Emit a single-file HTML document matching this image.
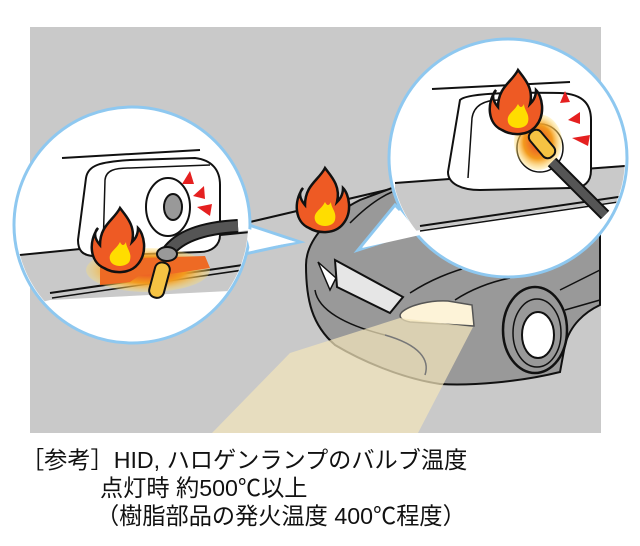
<!DOCTYPE html>
<html><head><meta charset="utf-8"><style>
body{margin:0;background:#fff;width:640px;height:546px;overflow:hidden;position:relative;font-family:"Liberation Sans","Noto Sans CJK JP",sans-serif}
.t{position:absolute;font-size:23.2px;color:#111;white-space:nowrap;line-height:1}
</style></head><body>
<svg width="640" height="546" viewBox="0 0 640 546" style="position:absolute;left:0;top:0">
<defs>
<radialGradient id="g" cx="50%" cy="50%" r="50%"><stop offset="0" stop-color="#e8402a"/><stop offset="0.6" stop-color="#f39a1d"/><stop offset="1" stop-color="#ffe070" stop-opacity="0.3"/></radialGradient>
<g id="fl"><path d="M0,-42 C-6,-30 -20,-25 -20,-5 C-26,-12 -26,-18 -22,-22 C-32,-8 -30,12 -16,18 C-6,24 10,24 18,14 C28,2 24,-16 18,-22 C18,-14 14,-10 12,-8 C16,-24 6,-34 0,-42 Z" fill="#ee5a24" stroke="#111" stroke-width="2.5"/><path d="M0,-8 C-4,0 -12,2 -10,10 C-8,18 8,18 10,10 C12,2 6,-2 6,-8 C4,-4 2,-4 0,-8Z" fill="#ffdd00"/></g>
</defs>
<rect x="30" y="27" width="571" height="406" fill="#c9c9c9"/>
<line x1="250" y1="222" x2="600" y2="140" stroke="#111" stroke-width="2"/>
<!-- car body -->
<path d="M306,265 C306,240 330,215 360,200 L400,185 L600,172 L600,305 C585,312 570,325 565,345 L560,372 C520,382 470,386 440,384 C400,378 360,360 335,345 C312,325 306,300 306,265 Z" fill="#999" stroke="#111" stroke-width="2"/>
<path d="M350,223 C365,208 378,198 392,192" fill="none" stroke="#111" stroke-width="1.5"/>
<path d="M318,262 L336,278 L330,290 Z" fill="#fff" stroke="#111" stroke-width="1.5"/>
<path d="M335,260 L403,297 L390,313 L337,287 Z" fill="#e6e6e6" stroke="#111" stroke-width="2"/>
<path d="M315,290 C318,310 345,325 385,335" fill="none" stroke="#111" stroke-width="1.5"/>
<path d="M410,293 C430,280 450,272 475,265" fill="none" stroke="#111" stroke-width="1.5"/>
<path d="M455,300 C470,290 490,282 510,278" fill="none" stroke="#111" stroke-width="1.5"/>
<path d="M560,290 L600,270 M565,310 L600,300" stroke="#111" stroke-width="1.5"/>
<!-- wheel -->
<ellipse cx="535" cy="330" rx="32" ry="43" fill="#999" stroke="#111" stroke-width="2.5"/>
<ellipse cx="537" cy="333" rx="24" ry="34" fill="#999" stroke="#111" stroke-width="1.5"/>
<ellipse cx="538" cy="335" rx="16" ry="23" fill="#fff" stroke="#111" stroke-width="2"/>
<!-- headlight and beam -->
<path d="M402,312 C410,305 430,300 448,301 L472,305 L474,326 L410,322 C400,320 398,316 402,312Z" fill="#fdf3d8" stroke="#555" stroke-width="1.5"/>
<polygon points="400,318 473,327 418,433 212,433 290,353" fill="#f3e4bb" opacity="0.72"/>
<path d="M385,335 C420,345 430,360 425,375" fill="none" stroke="#777" stroke-width="1.5"/>
<!-- pointers -->
<polygon points="395,205 420,230 358,250" fill="#fff" stroke="#8ec8f0" stroke-width="3"/>
<polygon points="240,222 300,242 240,255" fill="#fff" stroke="#8ec8f0" stroke-width="3"/>
<!-- left circle -->
<circle cx="132" cy="225" r="118" fill="#fff" stroke="#8ec8f0" stroke-width="3"/>
<polygon points="296,242 250,250 245,228" fill="#fff"/>
<!-- right circle -->
<circle cx="508" cy="158" r="119" fill="#fff" stroke="#8ec8f0" stroke-width="3"/>
<polygon points="400,210 362,248 420,235" fill="#fff"/>
<use href="#fl" x="325" y="210"/>
<!-- left circle content -->
<clipPath id="cl"><circle cx="132" cy="225" r="116"/></clipPath>
<g clip-path="url(#cl)">
<path d="M10,256 L250,230 L250,290 L50,300 L10,310Z" fill="#c9c9c9"/>
<line x1="10" y1="256" x2="250" y2="232" stroke="#111" stroke-width="2"/>
<line x1="50" y1="293" x2="250" y2="264" stroke="#111" stroke-width="2"/>
<line x1="52" y1="298" x2="250" y2="269" stroke="#111" stroke-width="1.5"/>
<line x1="62" y1="158" x2="200" y2="150" stroke="#111" stroke-width="2"/>
<path d="M86,178 C88,165 100,162 130,160 L195,158 C212,160 220,170 220,185 L220,235 C220,245 212,252 200,252 L95,256 C82,256 78,250 78,240 Z" fill="#fff" stroke="#111" stroke-width="2"/>
<path d="M103,250 L105,180 C106,170 115,168 130,168 L210,165" fill="none" stroke="#111" stroke-width="1.5"/>
<ellipse cx="168" cy="207" rx="22" ry="29" fill="#fff" stroke="#111" stroke-width="2"/>
<ellipse cx="173" cy="207" rx="9" ry="13" fill="#999" stroke="#111" stroke-width="2"/>
<ellipse cx="148" cy="270" rx="62" ry="22" fill="url(#g)"/>
<path d="M100,262 L140,258 L205,256 L210,268 L170,274 L140,275 L130,282 L100,285Z" fill="#ee6a24"/>
<path d="M168,252 C178,238 200,228 238,226" fill="none" stroke="#111" stroke-width="14"/>
<path d="M168,252 C178,238 200,228 238,226" fill="none" stroke="#555" stroke-width="10"/>
<rect x="152" y="262" width="15" height="36" rx="7" fill="#f6c343" stroke="#111" stroke-width="2" transform="rotate(15 159 280)"/>
<ellipse cx="167" cy="254" rx="10" ry="7" fill="#999" stroke="#111" stroke-width="2"/>
<use href="#fl" x="120" y="250"/>
<polygon points="182,184 190,171 194,184" fill="#e52020"/><polygon points="193,196 204,186 205,199" fill="#e52020"/><polygon points="197,207 212,204 210,216" fill="#e52020"/>
</g>
<!-- right circle content -->
<clipPath id="cr"><circle cx="508" cy="158" r="117"/></clipPath>
<g clip-path="url(#cr)">
<path d="M395,183 L625,165 L625,200 L420,230 L395,235Z" fill="#c9c9c9"/>
<line x1="395" y1="183" x2="625" y2="166" stroke="#111" stroke-width="2"/>
<line x1="420" y1="226" x2="625" y2="196" stroke="#111" stroke-width="2"/>
<line x1="420" y1="231" x2="625" y2="201" stroke="#111" stroke-width="1.5"/>
<line x1="432" y1="89" x2="570" y2="82" stroke="#111" stroke-width="2"/>
<path d="M460,100 C466,94 500,92 560,93 C585,94 591,106 591,120 L591,170 C591,182 585,188 570,188 L480,190 C462,190 448,184 448,172 Z" fill="#fff" stroke="#111" stroke-width="2"/>
<path d="M468,178 L472,118 C474,105 485,100 500,100" fill="none" stroke="#111" stroke-width="1.5"/>
<ellipse cx="540" cy="148" rx="23" ry="24" fill="#fff" stroke="#111" stroke-width="1.5"/>
<ellipse cx="538" cy="142" rx="24" ry="28" fill="url(#g)"/>
<path d="M552,162 L605,215" stroke="#111" stroke-width="12"/>
<path d="M552,162 L605,215" stroke="#555" stroke-width="8"/>
<rect x="535" y="128" width="14" height="32" rx="6" fill="#f6c343" stroke="#111" stroke-width="2" transform="rotate(-40 542 144)"/>
<use href="#fl" x="518" y="112"/>
<polygon points="560,103 565,91 570,102" fill="#e52020"/><polygon points="568,120 580,112 580,124" fill="#e52020"/><polygon points="572,138 590,135 588,146" fill="#e52020"/>
</g>
</svg>
<div class="t" style="left:21px;top:449px">［参考］HID, ハロゲンランプのバルブ温度</div>
<div class="t" style="left:100px;top:477px">点灯時 約500℃以上</div>
<div class="t" style="left:96px;top:505px">（樹脂部品の発火温度 400℃程度）</div>
</body></html>
